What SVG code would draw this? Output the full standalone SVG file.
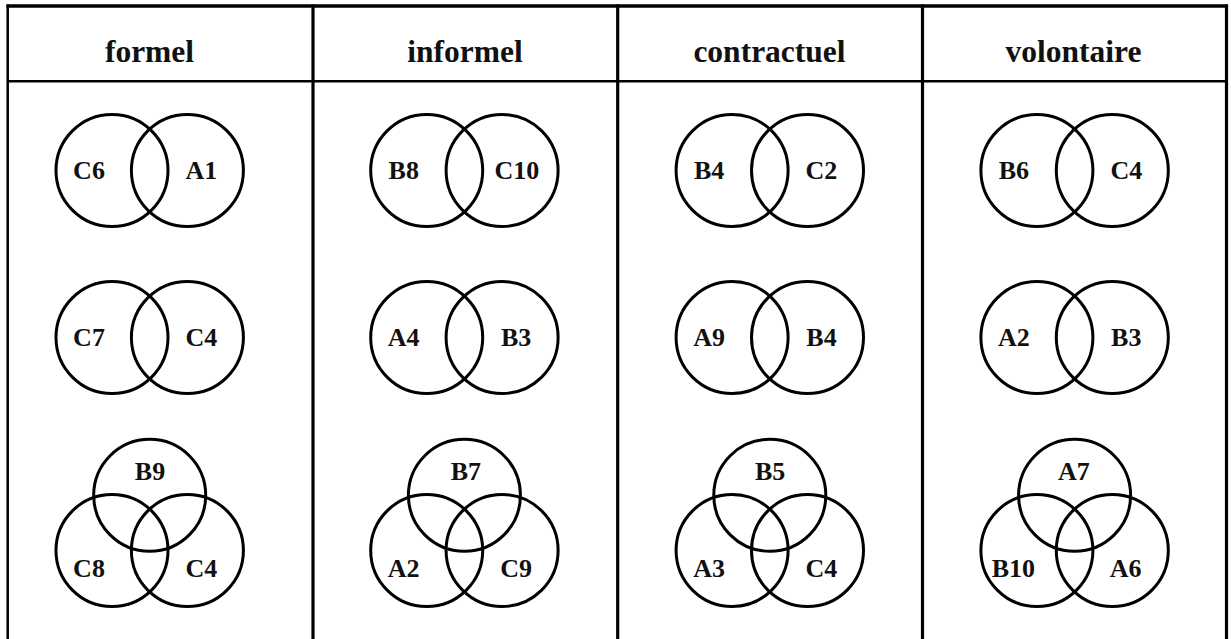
<svg xmlns="http://www.w3.org/2000/svg" width="1231" height="639" viewBox="0 0 1231 639">
<style>
  .grid { stroke: #000; fill: none; }
  .c { fill: none; stroke: #000; stroke-width: 3; }
  .h { font-family: "Liberation Serif", serif; font-weight: bold; font-size: 31.5px; fill: #111; text-anchor: middle; }
  .l { font-family: "Liberation Serif", serif; font-weight: bold; font-size: 26px; fill: #111; text-anchor: middle; }
</style>
<rect width="1231" height="639" fill="#fff"/>
<g id="table" class="grid">
  <line x1="6.5" y1="6" x2="1228" y2="6" stroke-width="3.5"/>
  <line x1="7.7" y1="81.3" x2="1226" y2="81.3" stroke-width="2.5"/>
  <line x1="7.7" y1="4.5" x2="7.7" y2="639" stroke-width="2.5"/>
  <line x1="313" y1="4.5" x2="313" y2="639" stroke-width="3.2"/>
  <line x1="617.7" y1="4.5" x2="617.7" y2="639" stroke-width="3.2"/>
  <line x1="922.5" y1="4.5" x2="922.5" y2="639" stroke-width="3.2"/>
  <line x1="1226.5" y1="4.5" x2="1226.5" y2="639" stroke-width="3.2"/>
</g>
<g id="headers">
  <text class="h" x="149.5" y="62">formel</text>
  <text class="h" x="465" y="62">informel</text>
  <text class="h" x="769.5" y="62">contractuel</text>
  <text class="h" x="1073.5" y="62">volontaire</text>
</g>
<defs>
  <g id="v2">
    <circle class="c" cx="-37.7" cy="0" r="56"/>
    <circle class="c" cx="37.7" cy="0" r="56"/>
  </g>
  <g id="v3">
    <circle class="c" cx="0" cy="-55.2" r="56"/>
    <circle class="c" cx="-37.7" cy="0" r="56"/>
    <circle class="c" cx="37.7" cy="0" r="56"/>
  </g>
</defs>
<!-- column 1: formel -->
<g id="formel-1" transform="translate(149.7,170.5)">
  <use href="#v2"/>
  <text class="l" x="-60.7" y="8.8">C6</text>
  <text class="l" x="51.7" y="8.8">A1</text>
</g>
<g id="formel-2" transform="translate(149.7,337.5)">
  <use href="#v2"/>
  <text class="l" x="-60.7" y="8.8">C7</text>
  <text class="l" x="51.7" y="8.8">C4</text>
</g>
<g id="formel-3" transform="translate(149.7,550.5)">
  <use href="#v3"/>
  <text class="l" x="0.3" y="-70.5">B9</text>
  <text class="l" x="-60.7" y="26.5">C8</text>
  <text class="l" x="51.7" y="26.5">C4</text>
</g>
<!-- column 2: informel -->
<g id="informel-1" transform="translate(464.4,170.5)">
  <use href="#v2"/>
  <text class="l" x="-60.7" y="8.8">B8</text>
  <text class="l" x="52.4" y="8.8">C10</text>
</g>
<g id="informel-2" transform="translate(464.4,337.5)">
  <use href="#v2"/>
  <text class="l" x="-60.7" y="8.8">A4</text>
  <text class="l" x="51.7" y="8.8">B3</text>
</g>
<g id="informel-3" transform="translate(464.4,550.5)">
  <use href="#v3"/>
  <text class="l" x="1.4" y="-70.5">B7</text>
  <text class="l" x="-60.7" y="26.5">A2</text>
  <text class="l" x="51.7" y="26.5">C9</text>
</g>
<!-- column 3: contractuel -->
<g id="contractuel-1" transform="translate(769.8,170.5)">
  <use href="#v2"/>
  <text class="l" x="-60.7" y="8.8">B4</text>
  <text class="l" x="51.7" y="8.8">C2</text>
</g>
<g id="contractuel-2" transform="translate(769.8,337.5)">
  <use href="#v2"/>
  <text class="l" x="-60.7" y="8.8">A9</text>
  <text class="l" x="51.7" y="8.8">B4</text>
</g>
<g id="contractuel-3" transform="translate(769.8,550.5)">
  <use href="#v3"/>
  <text class="l" x="0.3" y="-70.5">B5</text>
  <text class="l" x="-60.7" y="26.5">A3</text>
  <text class="l" x="51.7" y="26.5">C4</text>
</g>
<!-- column 4: volontaire -->
<g id="volontaire-1" transform="translate(1074.6,170.5)">
  <use href="#v2"/>
  <text class="l" x="-60.7" y="8.8">B6</text>
  <text class="l" x="51.7" y="8.8">C4</text>
</g>
<g id="volontaire-2" transform="translate(1074.6,337.5)">
  <use href="#v2"/>
  <text class="l" x="-60.7" y="8.8">A2</text>
  <text class="l" x="51.7" y="8.8">B3</text>
</g>
<g id="volontaire-3" transform="translate(1074.6,550.5)">
  <use href="#v3"/>
  <text class="l" x="-0.8" y="-70.5">A7</text>
  <text class="l" x="-61.3" y="26.5">B10</text>
  <text class="l" x="51.1" y="26.5">A6</text>
</g>
</svg>
